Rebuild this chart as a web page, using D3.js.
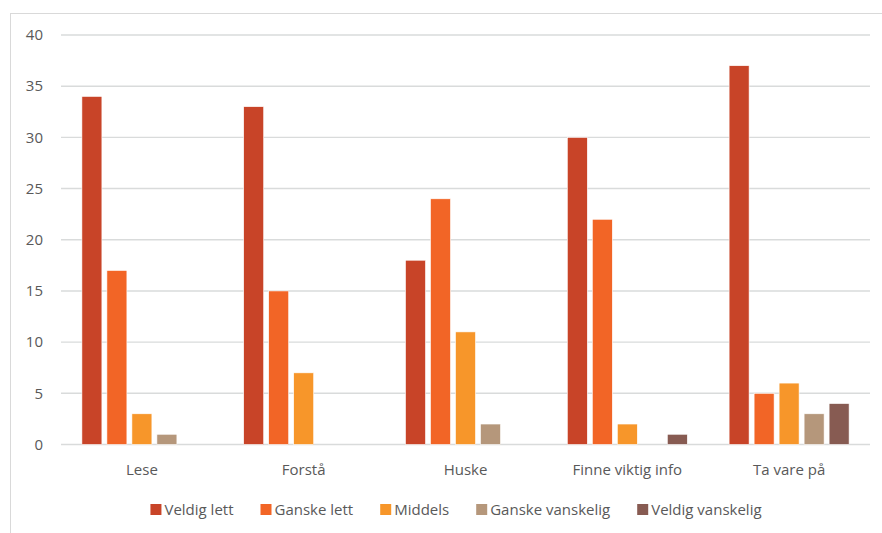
<!DOCTYPE html>
<html>
<head>
<meta charset="utf-8">
<script src="https://cdn.jsdelivr.net/npm/d3@7"></script>
<style>
  body { margin: 0; background: #fff; }
  text { font-family: "Open Sans", "DejaVu Sans", sans-serif; fill: #595959; }
</style>
</head>
<body>
<script>
// data
var categories = ["Lese", "Forstå", "Huske", "Finne viktig info", "Ta vare på"];
var seriesNames = ["Veldig lett", "Ganske lett", "Middels", "Ganske vanskelig", "Veldig vanskelig"];
var veldigLett = [34, 33, 18, 30, 37];
var ganskeLett = [17, 15, 24, 22, 5];
var middels = [3, 7, 11, 2, 6];
var ganskeVanskelig = [1, 0, 2, 0, 3];
var veldigVanskelig = [0, 0, 0, 1, 4];
var yTicks = [0, 5, 10, 15, 20, 25, 30, 35, 40];

var colors = ["#c84428", "#f26526", "#f7962a", "#b5977b", "#875b52"];
var series = [veldigLett, ganskeLett, middels, ganskeVanskelig, veldigVanskelig];

var W = 882, H = 533;
var svg = d3.select("body").append("svg").attr("width", W).attr("height", H);

// chart frame
svg.append("rect")
  .attr("x", 10.5).attr("y", 13.5)
  .attr("width", W + 10).attr("height", H + 10)
  .attr("fill", "none").attr("stroke", "#d9d9d9").attr("stroke-width", 1);

var plotLeft = 61, plotRight = 870, plotTop = 35, plotBottom = 444.5;

var x0 = d3.scaleBand().domain(categories).range([plotLeft, plotRight]).padding(0);
var y = d3.scaleLinear().domain([0, 40]).range([plotBottom, plotTop]);

// gridlines
svg.append("g").selectAll("line")
  .data(yTicks)
  .enter().append("line")
  .attr("x1", plotLeft).attr("x2", plotRight)
  .attr("y1", function(d) { return y(d); })
  .attr("y2", function(d) { return y(d); })
  .attr("stroke", "#d9dbdb").attr("stroke-width", 1.4);

// y labels
svg.append("g").selectAll("text")
  .data(yTicks)
  .enter().append("text")
  .attr("x", 43).attr("y", function(d) { return y(d); })
  .attr("dy", "0.35em")
  .attr("text-anchor", "end")
  .attr("font-size", 15)
  .text(function(d) { return d; });

// bars: 5 per group, step 25, width 20
var step = 25, bw = 20;
var groups = svg.append("g").selectAll("g")
  .data(categories)
  .enter().append("g")
  .attr("transform", function(d) {
    var c = x0(d) + x0.bandwidth() / 2;
    return "translate(" + (c - (step * 5 - (step - bw)) / 2) + ",0)";
  });

groups.selectAll("rect")
  .data(function(d, i) {
    return series.map(function(s, j) { return {v: s[i], j: j}; }).filter(function(e) { return e.v > 0; });
  })
  .enter().append("rect")
  .attr("x", function(d) { return d.j * step; })
  .attr("y", function(d) { return y(d.v); })
  .attr("width", bw)
  .attr("height", function(d) { return y(0) - y(d.v); })
  .attr("fill", function(d) { return colors[d.j]; })
  .attr("stroke", "#fff").attr("stroke-width", 0.6);

// category labels
svg.append("g").selectAll("text")
  .data(categories)
  .enter().append("text")
  .attr("x", function(d) { return x0(d) + x0.bandwidth() / 2; })
  .attr("y", 475)
  .attr("text-anchor", "middle")
  .attr("font-size", 15)
  .text(function(d) { return d; });

// legend
var legend = svg.append("g");
var items = legend.selectAll("g")
  .data(seriesNames)
  .enter().append("g");
items.append("rect")
  .attr("width", 11).attr("height", 11)
  .attr("y", 504)
  .attr("fill", function(d, i) { return colors[i]; });
items.append("text")
  .attr("x", 14).attr("y", 515)
  .attr("font-size", 15)
  .text(function(d) { return d; });

var gap = 27;
var xpos = 0, positions = [];
items.each(function() {
  positions.push(xpos);
  xpos += this.getBBox().width + gap;
});
var total = xpos - gap;
var start = 456 - total / 2;
items.attr("transform", function(d, i) { return "translate(" + (start + positions[i]) + ",0)"; });
</script>
</body>
</html>
